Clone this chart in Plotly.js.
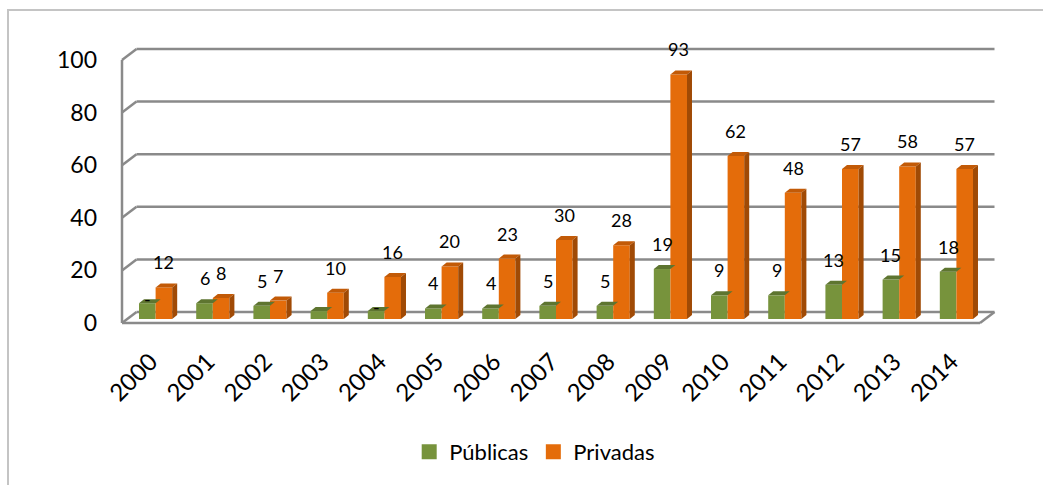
<!DOCTYPE html>
<html>
<head>
<meta charset="utf-8">
<script src="https://cdn.plot.ly/plotly-3.0.1.min.js"></script>
<style>html,body{margin:0;padding:0;background:#fff;}#chart{width:1043px;height:485px;}</style>
</head>
<body>
<div id="chart"></div>
<script>
// ---- data ----
const years = ['2000','2001','2002','2003','2004','2005','2006','2007','2008','2009','2010','2011','2012','2013','2014'];
const publicas = [6, 6, 5, 3, 3, 4, 4, 5, 5, 19, 9, 9, 13, 15, 18];
const privadas = [12, 8, 7, 10, 16, 20, 23, 30, 28, 93, 62, 48, 57, 58, 57];
const publicasLabels = ['-', '6', '5', '', '-', '4', '4', '5', '5', '19', '9', '9', '13', '15', '18'];
const privadasLabels = ['12', '8', '7', '10', '16', '20', '23', '30', '28', '93', '62', '48', '57', '58', '57'];
const yTicks = [0, 20, 40, 60, 80, 100];
const seriesNames = ['Públicas', 'Privadas'];

// ---- geometry / style ----
const W = 1043, H = 485;
const M = {l: 122, r: 63, t: 60, b: 162};
const PW = W - M.l - M.r, PH = H - M.t - M.b;
const n = years.length;
const pxPerX = PW / n;          // px per category
const pxPerY = PH / 100;        // px per unit
const wallDX = 14.5, wallDY = 11; // back wall depth offset (px)
const barDX = 5, barDY = 4;       // bar depth offset (px)
const green = '#77933C', greenTop = '#5E7530', greenSide = '#4F6327';
const orange = '#E46C0A', orangeTop = '#C25A07', orangeSide = '#A04A05';
const gridColor = '#8A8A8A';
const FONT = 'Lato, "Open Sans", sans-serif';

const xs = years.map((_, i) => i);
const bargap = 0.42;
const bw = (1 - bargap) / 2;

const traces = [
  {type: 'bar', name: seriesNames[0], x: xs, y: publicas, xaxis: 'x2', yaxis: 'y2', showlegend: false,
   marker: {color: green, line: {width: 0}}, hoverinfo: 'skip'},
  {type: 'bar', name: seriesNames[1], x: xs, y: privadas, xaxis: 'x2', yaxis: 'y2', showlegend: false,
   marker: {color: orange, line: {width: 0}}, hoverinfo: 'skip'},
  // legend entries (larger square swatches)
  {type: 'scatter', name: seriesNames[0], x: [null], y: [null], mode: 'markers',
   marker: {symbol: 'square', size: 15, color: green}, hoverinfo: 'skip'},
  {type: 'scatter', name: seriesNames[1], x: [null], y: [null], mode: 'markers',
   marker: {symbol: 'square', size: 15, color: orange}, hoverinfo: 'skip'},
  // invisible trace to create main (front) axes
  {type: 'scatter', x: [0], y: [0], mode: 'markers', marker: {opacity: 0}, showlegend: false, hoverinfo: 'skip'}
];

const shapes = [];
const pxToPaperX = p => p / PW;
const pxToPaperY = p => p / PH;
// back wall gridlines + left wall diagonals
yTicks.forEach(t => {
  const yf = t / 100, yb = yf + pxToPaperY(wallDY);
  shapes.push({type: 'line', xref: 'paper', yref: 'paper', layer: 'below',
    x0: pxToPaperX(wallDX), x1: 1 + pxToPaperX(wallDX), y0: yb, y1: yb,
    line: {color: gridColor, width: 2.5}});
  shapes.push({type: 'line', xref: 'paper', yref: 'paper', layer: 'below',
    x0: 0, x1: pxToPaperX(wallDX), y0: yf, y1: yb,
    line: {color: gridColor, width: 2.5}});
});
// left front edge
shapes.push({type: 'line', xref: 'paper', yref: 'paper', layer: 'below', x0: 0, x1: 0, y0: 0, y1: 1,
  line: {color: gridColor, width: 2.5}});
// floor front edge & right diagonal
shapes.push({type: 'line', xref: 'paper', yref: 'paper', layer: 'below', x0: 0, x1: 1, y0: 0, y1: 0,
  line: {color: gridColor, width: 2.5}});
shapes.push({type: 'line', xref: 'paper', yref: 'paper', layer: 'below', x0: 1, x1: 1 + pxToPaperX(wallDX),
  y0: 0, y1: pxToPaperY(wallDY), line: {color: gridColor, width: 2.5}});
// outer chart border
shapes.push({type: 'rect', xref: 'paper', yref: 'paper', layer: 'below',
  x0: pxToPaperX(8 - M.l), x1: 1.3, y0: -0.9, y1: pxToPaperY(H - M.b - 10),
  line: {color: '#C4C4C4', width: 2}});

// 3D faces of the bars (data coordinates on bar axes)
const dx = barDX / pxPerX, dy = barDY / pxPerY;
function faces(vals, xl, topC, sideC, side) {
  vals.forEach((v, i) => {
    const l = i + xl, r = l + bw;
    shapes.push({type: 'path', xref: 'x2', yref: 'y2', layer: 'above', line: {width: 0}, fillcolor: topC,
      path: `M${l},${v} L${l + dx},${v + dy} L${r + dx},${v + dy} L${r},${v} Z`});
    if (side) shapes.push({type: 'path', xref: 'x2', yref: 'y2', layer: 'above', line: {width: 0}, fillcolor: sideC,
      path: `M${r},${v} L${r + dx},${v + dy} L${r + dx},${dy} L${r},0 Z`});
  });
}
faces(publicas, -bw, greenTop, greenSide, false);
faces(privadas, 0, orangeTop, orangeSide, true);

// value labels
const annotations = [];
function labels(vals, txt, off) {
  vals.forEach((v, i) => {
    if (!txt[i]) return;
    annotations.push({xref: 'x2', yref: 'y2', x: i + off, y: v, text: txt[i], showarrow: false,
      yshift: txt[i] === '-' ? 4 : 25, yanchor: 'middle', xanchor: 'center',
      font: {family: FONT, size: 18, color: '#000'}});
  });
}
labels(publicas, publicasLabels, -bw / 2);
labels(privadas, privadasLabels, bw / 2);

const layout = {
  width: W, height: H, margin: M,
  paper_bgcolor: '#fff', plot_bgcolor: 'rgba(0,0,0,0)',
  barmode: 'group', bargap: bargap, bargroupgap: 0,
  showlegend: true,
  legend: {orientation: 'h', x: 0.481, xanchor: 'center', y: -0.49, yanchor: 'middle',
    font: {family: FONT, size: 22, color: '#000'}, traceorder: 'normal', itemwidth: 30, itemsizing: 'trace'},
  xaxis: {range: [-0.5, n - 0.5], tickmode: 'array', tickvals: xs, ticktext: years, tickangle: -45,
    showgrid: false, zeroline: false, showline: false, ticks: '', ticklabelstandoff: 19,
    tickfont: {family: FONT, size: 24, color: '#000'}, fixedrange: true},
  yaxis: {range: [0, 100], tickmode: 'array', tickvals: yTicks, showgrid: false, zeroline: false,
    showline: false, ticks: '', ticklabelstandoff: 24,
    tickfont: {family: FONT, size: 23, color: '#000'}, fixedrange: true},
  xaxis2: {domain: [pxToPaperX(barDX), 1], range: [-0.5, n - 0.5 - barDX / pxPerX], anchor: 'y2',
    visible: false, fixedrange: true},
  yaxis2: {domain: [pxToPaperY(barDY), 1], range: [0, 100 - barDY / pxPerY], anchor: 'x2',
    visible: false, fixedrange: true},
  shapes: shapes, annotations: annotations,
  font: {family: FONT}
};

Plotly.newPlot('chart', traces, layout, {staticPlot: true, displayModeBar: false});
</script>
</body>
</html>
